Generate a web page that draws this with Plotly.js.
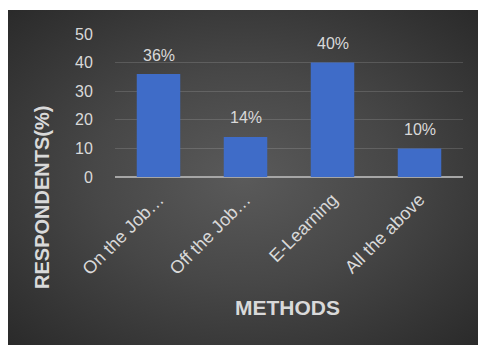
<!DOCTYPE html>
<html>
<head>
<meta charset="utf-8">
<script src="https://cdn.plot.ly/plotly-3.0.1.min.js"></script>
<style>
html,body{margin:0;padding:0;background:#fff;width:480px;height:347px;overflow:hidden;}
#chart{position:absolute;left:8px;top:10px;width:470px;height:335px;
background:radial-gradient(ellipse at 50% 50%, #5a5a5a 0%, #474747 45%, #2a2a2a 100%);}
</style>
</head>
<body>
<div id="chart"></div>
<script>
const categories = ["On the Job\u2026", "Off the Job\u2026", "E-Learning", "All the above"];
const values = [36, 14, 40, 10];
const labels = ["36%", "14%", "40%", "10%"];
const yTicks = [0, 10, 20, 30, 40, 50];

const FONT = "Liberation Sans, Arial, sans-serif";
const TXT = "#d9d9d9";

const trace = {
  type: "bar",
  x: categories,
  y: values,
  marker: {color: "#3f6cc8", line: {width: 0}},
  hoverinfo: "none"
};

const valueLabels = categories.map((c, i) => ({
  x: c, y: values[i], xref: "x", yref: "y",
  text: labels[i], showarrow: false,
  xanchor: "center", yanchor: "middle", yshift: 19,
  font: {family: FONT, size: 16, color: TXT}
}));

const layout = {
  width: 470,
  height: 335,
  margin: {l: 107, r: 15, t: 24, b: 168},
  paper_bgcolor: "rgba(0,0,0,0)",
  plot_bgcolor: "rgba(0,0,0,0)",
  bargap: 0.5,
  showlegend: false,
  font: {family: FONT, color: TXT},
  xaxis: {
    tickangle: -45,
    tickfont: {family: FONT, size: 18, color: TXT},
    showgrid: false,
    showline: false,
    zeroline: false,
    ticks: "outside",
    ticklen: 4,
    tickcolor: "rgba(0,0,0,0)",
    fixedrange: true
  },
  yaxis: {
    range: [0, 50],
    tickvals: yTicks,
    ticktext: yTicks.map(String),
    tickfont: {family: FONT, size: 16, color: TXT},
    showgrid: true,
    gridcolor: "rgba(255,255,255,0.14)",
    gridwidth: 1,
    zeroline: true,
    zerolinecolor: "#a6a6a6",
    zerolinewidth: 1.5,
    showline: false,
    ticks: "outside",
    ticklen: 18,
    tickcolor: "rgba(0,0,0,0)",
    fixedrange: true
  },
  annotations: valueLabels.concat([
    {text: "<b>RESPONDENTS(%)</b>", xref: "paper", yref: "paper",
     x: -0.21, y: -0.14, xanchor: "center", yanchor: "middle",
     textangle: -90, showarrow: false,
     font: {family: FONT, size: 20, color: TXT}},
    {text: "<b>METHODS</b>", xref: "paper", yref: "paper",
     x: 0.497, y: -0.916, xanchor: "center", yanchor: "middle",
     showarrow: false,
     font: {family: FONT, size: 21, color: TXT}}
  ])
};

Plotly.newPlot("chart", [trace], layout, {displayModeBar: false, staticPlot: true});
</script>
</body>
</html>
